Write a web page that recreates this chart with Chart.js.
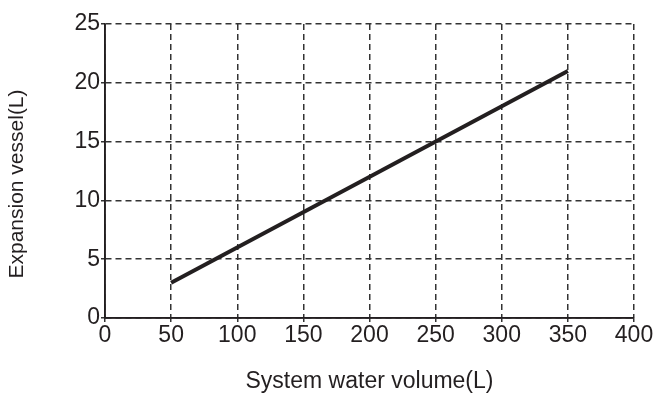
<!DOCTYPE html>
<html>
<head>
<meta charset="utf-8">
<script src="https://cdn.jsdelivr.net/npm/chart.js@4"></script>
<style>
  html, body { margin: 0; padding: 0; background: #fff; }
  #wrap { width: 661px; height: 395px; }
</style>
</head>
<body>
<div id="wrap"><canvas id="chart" width="661" height="395"></canvas></div>
<script>
const waterVolume = [50, 350];
const vesselSize = [3, 21];
const xTicks = [0, 50, 100, 150, 200, 250, 300, 350, 400];
const yTicks = [0, 5, 10, 15, 20, 25];
const xTitle = 'System water volume(L)';
const yTitle = 'Expansion vessel(L)';

// y title sits a bit below the middle of the axis in the reference, so draw it by hand;
// also redraw the left and bottom axis lines solid over the dashed zero grid lines
const axisPlugin = {
  id: 'axisExtras',
  afterDraw(chart) {
    const ctx = chart.ctx;
    const a = chart.chartArea;
    ctx.save();
    ctx.strokeStyle = '#231f20';
    ctx.lineWidth = 1.6;
    ctx.setLineDash([]);
    ctx.beginPath();
    ctx.moveTo(a.left, a.top);
    ctx.lineTo(a.left, a.bottom);
    ctx.lineTo(a.right, a.bottom);
    ctx.stroke();

    ctx.translate(17, 184);
    ctx.rotate(-Math.PI / 2);
    ctx.font = '21px "Liberation Sans", Arial, sans-serif';
    ctx.fillStyle = '#231f20';
    ctx.textAlign = 'center';
    ctx.textBaseline = 'middle';
    ctx.fillText(yTitle, 0, 0);
    ctx.restore();
  }
};

const tickFont = { family: '"Liberation Sans", Arial, sans-serif', size: 23 };

new Chart(document.getElementById('chart').getContext('2d'), {
  type: 'line',
  data: {
    datasets: [{
      data: waterVolume.map((x, i) => ({ x: x, y: vesselSize[i] })),
      borderColor: '#231f20',
      borderWidth: 4,
      pointRadius: 0,
      tension: 0
    }]
  },
  options: {
    responsive: false,
    animation: false,
    layout: { padding: { top: 24, right: 27, left: 0, bottom: 0 } },
    plugins: { legend: { display: false }, tooltip: { enabled: false } },
    scales: {
      x: {
        type: 'linear',
        min: 0, max: 400,
        afterBuildTicks: s => { s.ticks = xTicks.map(v => ({ value: v })); },
        afterFit: s => { s.height = 77; },
        ticks: { color: '#231f20', font: tickFont, padding: 0, maxRotation: 0 },
        grid: { color: '#333', lineWidth: 1.5, tickLength: 4, tickBorderDash: [], tickColor: '#333' },
        border: { display: true, color: '#231f20', width: 1.5, dash: [6, 4] },
        title: { display: true, text: xTitle, color: '#231f20',
                 font: { family: '"Liberation Sans", Arial, sans-serif', size: 23 },
                 padding: { top: 0, bottom: 0 } }
      },
      y: {
        min: 0, max: 25,
        afterBuildTicks: s => { s.ticks = yTicks.map(v => ({ value: v })); },
        afterFit: s => { s.width = 105; },
        ticks: { color: '#231f20', font: tickFont, padding: 1 },
        grid: { color: '#333', lineWidth: 1.5, tickLength: 4, tickBorderDash: [], tickColor: '#333' },
        border: { display: true, color: '#231f20', width: 1.5, dash: [6, 4] }
      }
    }
  },
  plugins: [axisPlugin]
});
</script>
</body>
</html>
